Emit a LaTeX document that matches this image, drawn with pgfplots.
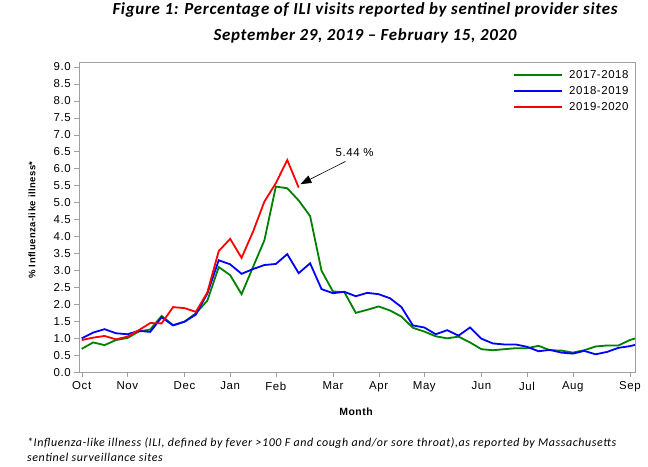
\documentclass[border=0pt]{standalone}
\usepackage{fontspec}
\setmainfont{Carlito}
\newfontfamily\arial[LetterSpace=5]{Liberation Sans}
\newfontfamily\titlefont[LetterSpace=4]{Carlito}
\newfontfamily\notefont[LetterSpace=5]{Carlito}
\usepackage{pgfplots}
\pgfplotsset{compat=1.18}
\usepackage{pgfplotstable}
\usetikzlibrary{arrows.meta}

\definecolor{sgreen}{RGB}{0,128,0}
\definecolor{sblue}{RGB}{0,0,255}
\definecolor{sred}{RGB}{255,0,0}
\definecolor{axgray}{RGB}{160,160,160}

\pgfplotstableread{
w v
0 0.69
1 0.88
2 0.80
3 0.95
4 1.01
5 1.20
6 1.26
7 1.66
8 1.39
9 1.49
10 1.74
11 2.11
12 3.10
13 2.86
14 2.30
15 3.10
16 3.89
17 5.47
18 5.42
19 5.06
20 4.60
21 2.99
22 2.38
23 2.36
24 1.75
25 1.84
26 1.94
27 1.82
28 1.64
29 1.31
30 1.20
31 1.06
32 1.00
33 1.05
34 0.88
35 0.68
36 0.65
37 0.68
38 0.71
39 0.71
40 0.78
41 0.65
42 0.64
43 0.58
44 0.65
45 0.76
46 0.79
47 0.79
48 0.95
49 1.05
}\greentab

\pgfplotstableread{
w v
0 1.00
1 1.17
2 1.27
3 1.15
4 1.12
5 1.22
6 1.19
7 1.62
8 1.38
9 1.49
10 1.70
11 2.32
12 3.30
13 3.18
14 2.90
15 3.04
16 3.16
17 3.19
18 3.48
19 2.92
20 3.21
21 2.45
22 2.33
23 2.37
24 2.24
25 2.34
26 2.30
27 2.18
28 1.92
29 1.38
30 1.32
31 1.12
32 1.24
33 1.08
34 1.32
35 0.99
36 0.85
37 0.82
38 0.82
39 0.75
40 0.62
41 0.66
42 0.58
43 0.55
44 0.63
45 0.53
46 0.60
47 0.72
48 0.77
49 0.85
}\bluetab

\pgfplotstableread{
w v
0 0.95
1 1.02
2 1.07
3 0.97
4 1.05
5 1.24
6 1.45
7 1.44
8 1.92
9 1.89
10 1.78
11 2.35
12 3.57
13 3.93
14 3.37
15 4.14
16 5.03
17 5.57
18 6.25
19 5.44
}\redtab

\begin{document}
\begin{tikzpicture}[x=1bp,y=1bp]
\useasboundingbox (0,0) rectangle (648,467);
\node[anchor=base, inner sep=0pt, font=\titlefont\fontsize{17}{19}\selectfont\bfseries\itshape] at (365,452) {Figure 1: Percentage of ILI visits reported by sentinel provider sites};
\node[anchor=base, inner sep=0pt, font=\titlefont\fontsize{17}{19}\selectfont\bfseries\itshape] at (365,426) {September 29, 2019 – February 15, 2020};
\node[anchor=base west, inner sep=0pt, font=\notefont\fontsize{12}{14}\selectfont\itshape] at (27,20) {*Influenza-like illness (ILI, defined by fever >100 F and cough and/or sore throat),as reported by Massachusetts};
\node[anchor=base west, inner sep=0pt, font=\notefont\fontsize{12}{14}\selectfont\itshape] at (27,5) {sentinel surveillance sites};
\node[font=\arial\fontsize{10.5}{12}\selectfont\bfseries] at (356,55.5) {Month};
\node[rotate=90, font=\arial\fontsize{9.5}{11}\selectfont\bfseries] at (32,247) {\% Influenza-like illness*};
\begin{axis}[
  at={(79.3bp,94.7bp)}, anchor=south west, scale only axis,
  width=555.7bp, height=310bp,
  xmin=-0.21, xmax=48.45, ymin=0, ymax=9.13,
  axis line style={draw=axgray},
  tick style={draw=axgray},
  tick align=outside, tick pos=left,
  major tick length=5bp,
  xtick={0,4,9,13,17,22,26,30,35,39,43,48},
  xticklabels={Oct,Nov,Dec,Jan,Feb,Mar,Apr,May,Jun,Jul,Aug,Sep},
  ytick={0,0.5,...,9.0},
  yticklabel style={/pgf/number format/.cd, fixed, fixed zerofill, precision=1},
  ticklabel style={font=\arial\fontsize{11.5}{13}\selectfont},
  /pgf/number format/assume math mode=true,
  x tick label style={yshift=-1bp},
  clip=true,
]
\addplot[sgreen, line width=1.8bp] table[x=w,y=v] {\greentab};
\addplot[sblue, line width=1.8bp] table[x=w,y=v] {\bluetab};
\addplot[sred, line width=1.8bp] table[x=w,y=v] {\redtab};
% legend keys
\draw[sgreen, line width=1.8bp] (rel axis cs:0.7823,0.959) -- (rel axis cs:0.8686,0.959);
\draw[sblue, line width=1.8bp] (rel axis cs:0.7823,0.9074) -- (rel axis cs:0.8686,0.9074);
\draw[sred, line width=1.8bp] (rel axis cs:0.7823,0.8558) -- (rel axis cs:0.8686,0.8558);
\node[anchor=west, inner sep=0pt, font=\arial\fontsize{11.5}{13}\selectfont] at (rel axis cs:0.8812,0.959) {2017-2018};
\node[anchor=west, inner sep=0pt, font=\arial\fontsize{11.5}{13}\selectfont] at (rel axis cs:0.8812,0.9074) {2018-2019};
\node[anchor=west, inner sep=0pt, font=\arial\fontsize{11.5}{13}\selectfont] at (rel axis cs:0.8812,0.8558) {2019-2020};
\draw[black, line width=0.6bp, -{Triangle[length=11bp,width=8bp]}] (axis cs:23.1,6.21) -- (axis cs:19.15,5.54);
\node[font=\arial\fontsize{11.5}{13}\selectfont] at (axis cs:23.9,6.46) {5.44 \%};
\end{axis}
\end{tikzpicture}
\end{document}
